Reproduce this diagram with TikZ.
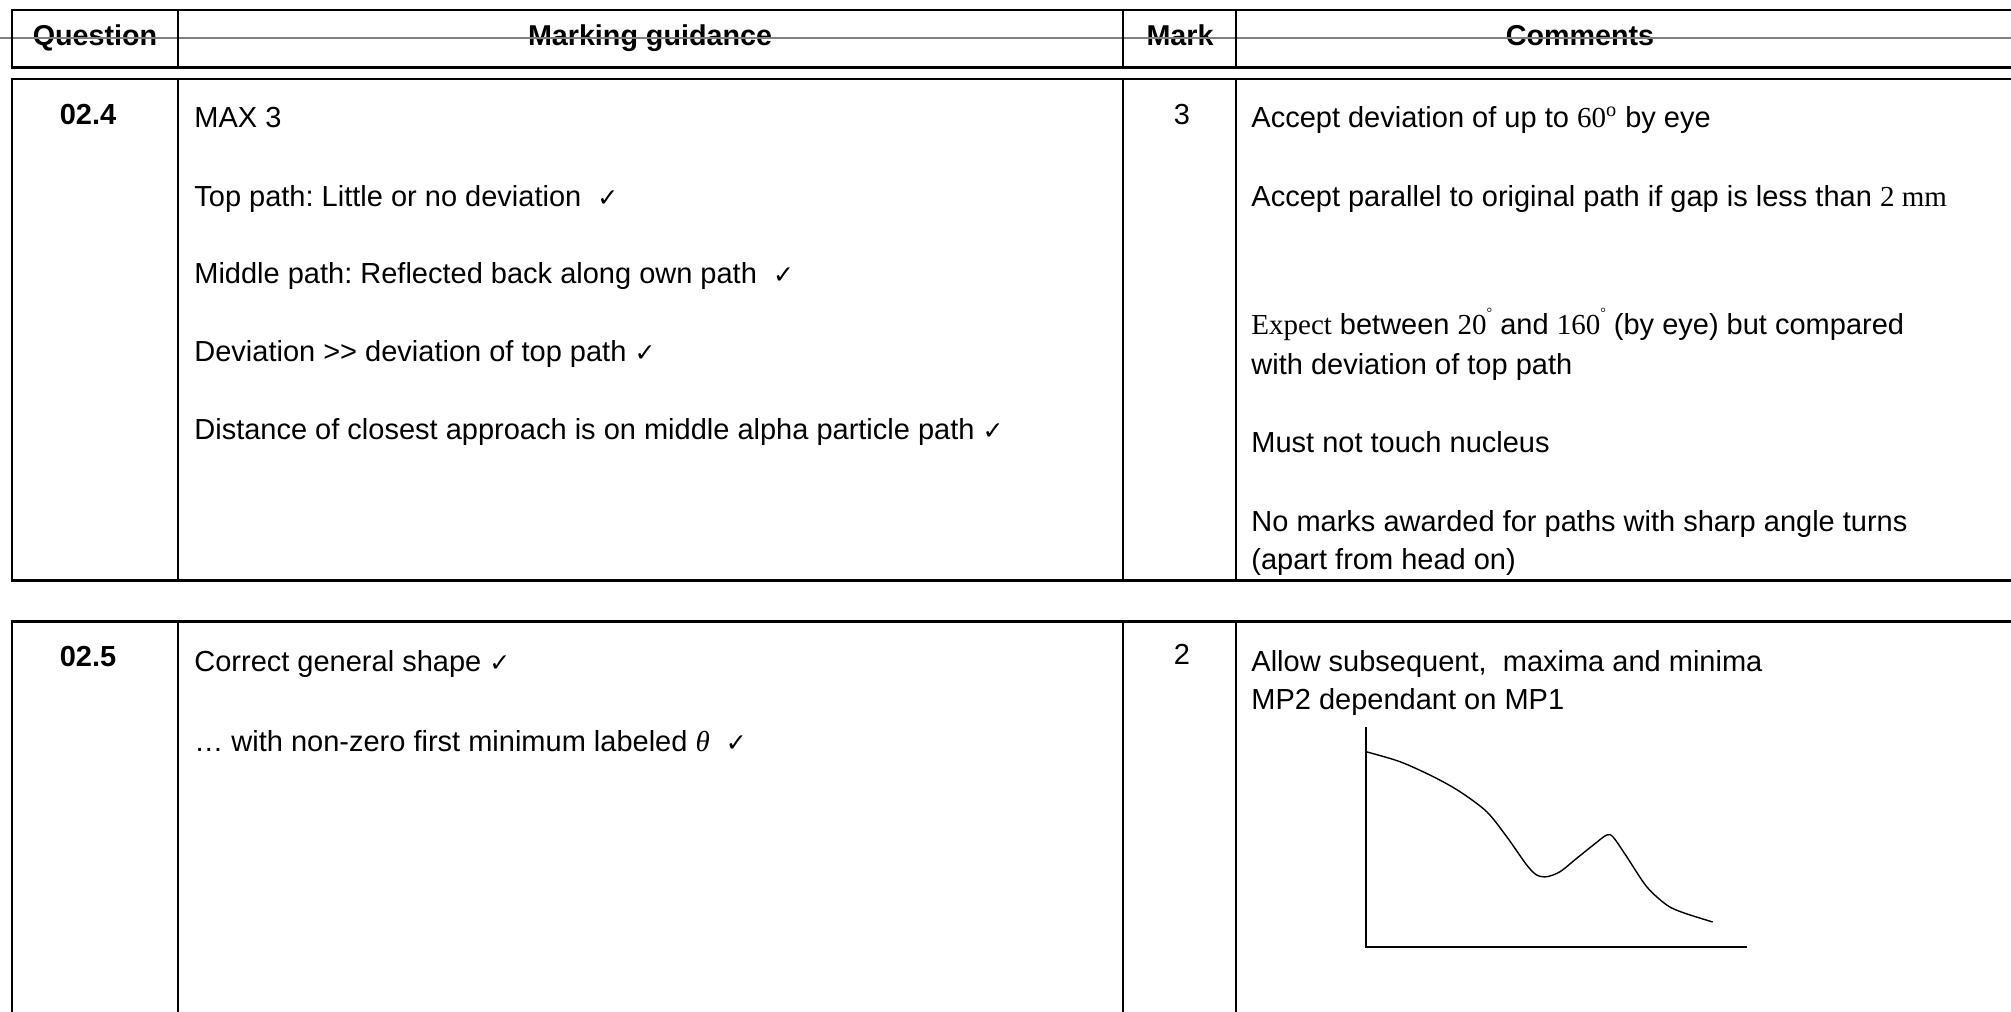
\documentclass[tikz,border=0pt]{standalone}
\usepackage{fontspec}
\setmainfont{Liberation Sans}
\newfontfamily\seriffont{Liberation Serif}
\newfontfamily\symfont{DejaVu Sans}
\newcommand{\ck}{{\symfont\fontsize{12.5}{14}\selectfont ✓}}
\newcommand{\dg}[1]{{\seriffont #1}}
\frenchspacing
\begin{document}
\begin{tikzpicture}[x=0.5pt,y=-0.5pt,
  frame/.style={line width=1.3pt,black},
  strike/.style={line width=0.9pt,black!50},
  txt/.style={inner sep=0pt,anchor=base west,font=\fontsize{14.5}{17}\selectfont},
  ctxt/.style={inner sep=0pt,anchor=base,font=\fontsize{14.5}{17}\selectfont},
  hdr/.style={inner sep=0pt,anchor=base,font=\fontsize{14.35}{17}\selectfont\bfseries},
  axis/.style={line width=1.1pt,black},
  curve/.style={line width=0.7pt,black}]
\useasboundingbox (0,0) rectangle (2011,1011);
\clip (0,0) rectangle (2011,1011);
% header row
\node[hdr] (hq) at (95,46) {Question};
\node[hdr] (hm) at (650,46) {Marking guidance};
\node[hdr] (hk) at (1180,46) {Mark};
\node[hdr] (hc) at (1580,46) {Comments};
\draw[strike] (0,37.7) -- (2011,37.7);
\draw[frame] (2030,10) -- (12,10) -- (12,67.7) -- (2030,67.7);
\foreach \x in {178,1123,1236} \draw[frame] (\x,10) -- (\x,67.7);
% box 1
\draw[frame] (2030,79) -- (12,79) -- (12,580.7) -- (2030,580.7);
\foreach \x in {178,1123,1236} \draw[frame] (\x,79) -- (\x,580.7);
\node[ctxt,font=\fontsize{14.5}{17}\selectfont\bfseries] (q1) at (88,125) {02.4};
\node[ctxt] (m1) at (1182,125) {3};
\node[txt] (g1) at (194,127) {MAX 3};
\node[txt] (g2) at (194,206) {Top path: Little or no deviation\ \ \ck};
\node[txt] (g3) at (194,283) {Middle path: Reflected back along own path\ \ \ck};
\node[txt] (g4) at (194,361) {Deviation >{}> deviation of top path \ck};
\node[txt] (g5) at (194,439) {Distance of closest approach is on middle alpha particle path \ck};
\node[txt] (c1) at (1251,127) {Accept deviation of up to \dg{60\textsuperscript{o}} by eye};
\node[txt] (c2) at (1251,206) {Accept parallel to original path if gap is less than \dg{2 mm}};
\node[txt] (c3) at (1251,334) {\dg{Expect} between \dg{20}\raisebox{1.1ex}{\fontsize{7}{8}\selectfont\dg{°}} and \dg{160}\raisebox{1.1ex}{\fontsize{7}{8}\selectfont\dg{°}} (by eye) but compared};
\node[txt] (c4) at (1251,374) {with deviation of top path};
\node[txt] (c5) at (1251,452) {Must not touch nucleus};
\node[txt] (c6) at (1251,531) {No marks awarded for paths with sharp angle turns};
\node[txt] (c7) at (1251,569) {(apart from head on)};
% box 2
\draw[frame] (2030,621.7) -- (12,621.7) -- (12,1030);
\foreach \x in {178,1123,1236} \draw[frame] (\x,621.7) -- (\x,1030);
\node[ctxt,font=\fontsize{14.5}{17}\selectfont\bfseries] (q2) at (88,666) {02.5};
\node[ctxt] (m2) at (1182,664) {2};
\node[txt] (h1) at (194,671) {Correct general shape \ck};
\node[txt] (h2) at (194,751) {… with non-zero first minimum labeled {\seriffont\itshape θ}\ \ \ck};
\node[txt] (d1) at (1251,671) {Allow subsequent,\ \ maxima and minima};
\node[txt] (d2) at (1251,709) {MP2 dependant on MP1};
% sketch graph
\coordinate (ytop) at (1366,727.3);
\coordinate (orig) at (1366,947);
\coordinate (xend) at (1746.7,947);
\draw[axis] (ytop) -- (orig) -- (xend);
\draw[curve] plot[smooth,tension=0.5] coordinates {(1366,751.7) (1400,761.7) (1433.3,776.7) (1460,791.7) (1486.7,811.7) (1506.7,836.7) (1526.7,865) (1536.7,875) (1546.7,876.7) (1560,871.7) (1576.7,858.3) (1593.3,845) (1606.7,835) (1613.3,837.3) (1626.7,856.7) (1646.7,886.7) (1666.7,905) (1683.3,912.7) (1712.7,922)};
\end{tikzpicture}
\end{document}
